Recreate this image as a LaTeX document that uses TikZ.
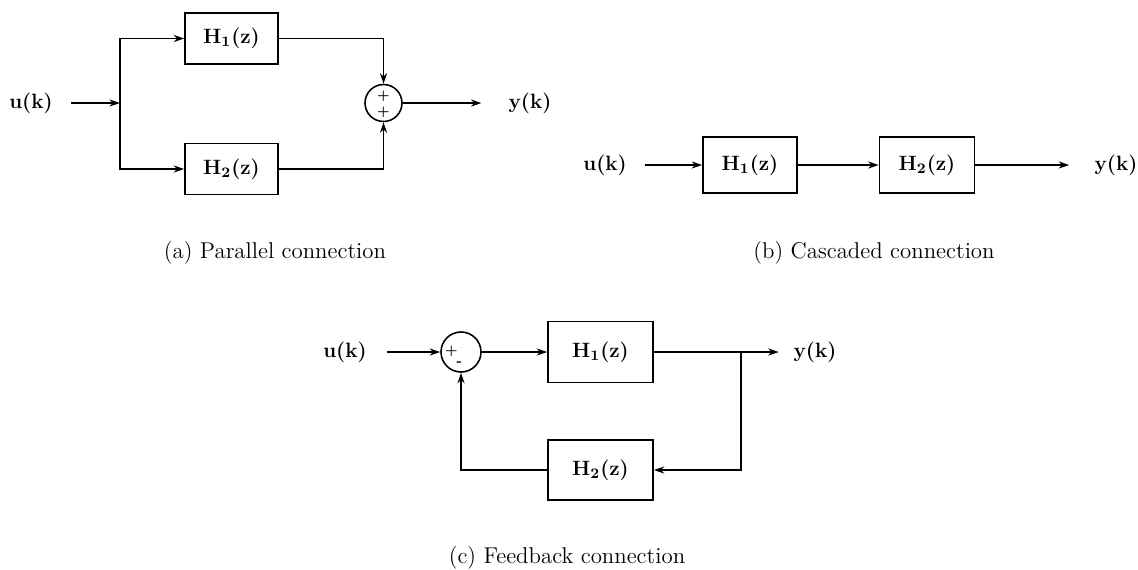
\documentclass[tikz,border=0pt]{standalone}
\usetikzlibrary{arrows.meta,positioning}

\begin{document}
\begin{tikzpicture}[x=0.02cm, y=-0.02cm, line width=0.9pt,
    box/.style={draw, minimum width=1.86cm, minimum height=1.02cm, font=\fontsize{11.8}{14}\selectfont\bfseries},
    sum/.style={draw, circle, minimum size=0.74cm, inner sep=0pt},
    sig/.style={inner sep=0pt, font=\fontsize{11.8}{14}\selectfont\bfseries},
    sgn/.style={inner sep=0pt, font=\fontsize{7.5}{8}\selectfont\bfseries},
    capt/.style={font=\fontsize{13}{15}\selectfont},
    >={Stealth[length=6pt,width=4pt]}
]
\useasboundingbox (0,0) rectangle (1138,569);

% (a) parallel
\node[sig] (ua) at (31,103) {u(k)};
\coordinate (ja) at (120,103);
\node[box] (h1a) at (231.5,38.5) {H\textsubscript{1}(z)};
\node[box] (h2a) at (231.5,169) {H\textsubscript{2}(z)};
\node[sum] (suma) at (383.5,103) {};
\node[sgn] at ([yshift=4pt]suma.center) {+};
\node[sgn] at ([yshift=-5pt]suma.center) {+};
\node[sig] (ya) at (530,103) {y(k)};
\draw[->, shorten <=10pt] (ua) -- (ja);
\draw[->] (ja) |- (h1a);
\draw[->] (ja) |- (h2a);
\draw[->] (h1a) -| (suma);
\draw[->] (h2a) -| (suma);
\draw[->, shorten >=15pt] (suma) -- (ya);
\node[capt] (capa) at (275,253) {(a) Parallel connection};

% (b) cascade
\node[sig] (ub) at (605,165) {u(k)};
\node[box, minimum width=1.88cm, minimum height=1.12cm] (h1b) at (750,165) {H\textsubscript{1}(z)};
\node[box, minimum width=1.9cm, minimum height=1.12cm] (h2b) at (927,165) {H\textsubscript{2}(z)};
\node[sig] (yb) at (1116,165) {y(k)};
\draw[->, shorten <=10pt] (ub) -- (h1b);
\draw[->] (h1b) -- (h2b);
\draw[->, shorten >=14pt] (h2b) -- (yb);
\node[capt] (capb) at (874,253) {(b) Cascaded connection};

% (c) feedback
\node[sig] (uc) at (345,352) {u(k)};
\node[sum, minimum size=0.8cm] (sumc) at (461,352) {};
\node[sgn] at ([xshift=-5.5pt,yshift=0.5pt]sumc.center) {+};
\node[sgn] at ([xshift=-1pt,yshift=-6.5pt]sumc.center) {-};
\node[box, minimum width=2.1cm, minimum height=1.22cm] (h1c) at (600.5,352) {H\textsubscript{1}(z)};
\node[box, minimum width=2.1cm, minimum height=1.2cm] (h2c) at (600.5,470) {H\textsubscript{2}(z)};
\coordinate (bc) at (741,352);
\node[sig] (yc) at (815,352) {y(k)};
\draw[->, shorten <=11pt] (uc) -- (sumc);
\draw[->] (sumc) -- (h1c);
\draw[->, shorten >=8pt] (h1c) -- (yc);
\draw[->] (bc) |- (h2c);
\draw[->] (h2c) -| (sumc);
\node[capt] (capc) at (567,558) {(c) Feedback connection};
\end{tikzpicture}
\end{document}
